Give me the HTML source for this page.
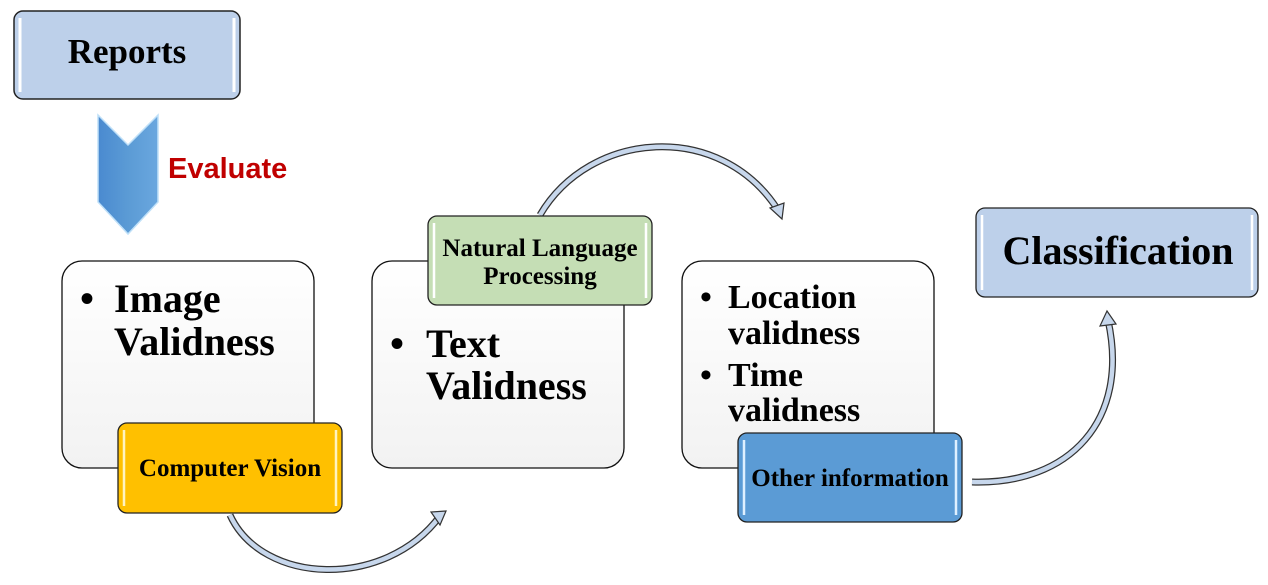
<!DOCTYPE html>
<html><head><meta charset="utf-8"><style>body{margin:0;background:#fff}svg{display:block}</style></head><body>
<svg width="1268" height="585" xmlns="http://www.w3.org/2000/svg" font-family="Liberation Serif, serif" font-weight="bold">
<defs>
<linearGradient id="wg" x1="0" y1="0" x2="0" y2="1"><stop offset="0" stop-color="#fff"/><stop offset="1" stop-color="#f2f2f2"/></linearGradient>
<linearGradient id="cg" x1="0" y1="0" x2="1" y2="0"><stop offset="0" stop-color="#4a8ad0"/><stop offset="0.5" stop-color="#5b9bd5"/><stop offset="1" stop-color="#6aa7df"/></linearGradient>
</defs>
<rect x="14" y="11" width="226" height="88" rx="9" fill="#bdd0ea" stroke="#222" stroke-width="1.5"/>
<line x1="20" y1="18" x2="20" y2="92" stroke="#fff" stroke-width="3"/><line x1="234" y1="18" x2="234" y2="92" stroke="#fff" stroke-width="3"/>
<text x="127" y="63" font-size="35" text-anchor="middle">Reports</text>
<polygon points="98,115 128,145 158,115 158,202 128,234 98,202" fill="url(#cg)" stroke="#bfe0f8" stroke-width="1.5"/>
<text x="168" y="178" font-family="Liberation Sans, sans-serif" font-weight="bold" font-size="29" fill="#c00000">Evaluate</text>
<g fill="none">
<path d="M230,515 C262,585 385,590 440,516" stroke="#333" stroke-width="7"/><path d="M230,515 C262,585 385,590 440,516" stroke="#c7d7ec" stroke-width="4.5"/>
<path d="M540,215 C590,130 720,120 778,210" stroke="#333" stroke-width="7"/><path d="M540,215 C590,130 720,120 778,210" stroke="#c7d7ec" stroke-width="4.5"/>
<path d="M972,482 C1070,485 1130,420 1108,320" stroke="#333" stroke-width="7"/><path d="M972,482 C1070,485 1130,420 1108,320" stroke="#c7d7ec" stroke-width="4.5"/>
</g>
<polygon points="446,511 431,512 440,525" fill="#c7d7ec" stroke="#333" stroke-width="1.2"/>
<polygon points="782,219 770,208 784,203" fill="#c7d7ec" stroke="#333" stroke-width="1.2"/>
<polygon points="1107,311 1100,326 1116,324" fill="#c7d7ec" stroke="#333" stroke-width="1.2"/>
<rect x="62" y="261" width="252" height="207" rx="20" fill="url(#wg)" stroke="#111" stroke-width="1.3"/>
<rect x="372" y="261" width="252" height="207" rx="20" fill="url(#wg)" stroke="#111" stroke-width="1.3"/>
<rect x="682" y="261" width="252" height="207" rx="20" fill="url(#wg)" stroke="#111" stroke-width="1.3"/>
<text font-size="40"><tspan x="80" y="312">•</tspan><tspan x="114" y="312">Image</tspan><tspan x="114" y="355">Validness</tspan></text>
<text font-size="40"><tspan x="390" y="357">•</tspan><tspan x="426" y="357">Text</tspan><tspan x="426" y="399">Validness</tspan></text>
<text font-size="34"><tspan x="700" y="308">•</tspan><tspan x="728" y="308">Location</tspan><tspan x="728" y="344">validness</tspan><tspan x="700" y="386">•</tspan><tspan x="728" y="386">Time</tspan><tspan x="728" y="421">validness</tspan></text>
<rect x="118" y="423" width="224" height="90" rx="9" fill="#ffc000" stroke="#222" stroke-width="1.3"/>
<line x1="124" y1="430" x2="124" y2="506" stroke="#fff3c0" stroke-width="2.5"/><line x1="336" y1="430" x2="336" y2="506" stroke="#fff3c0" stroke-width="2.5"/>
<text x="230" y="476" font-size="25" text-anchor="middle">Computer Vision</text>
<rect x="428" y="216" width="224" height="89" rx="9" fill="#c5deb5" stroke="#222" stroke-width="1.3"/>
<line x1="434" y1="223" x2="434" y2="298" stroke="#fff" stroke-width="2.5"/><line x1="646" y1="223" x2="646" y2="298" stroke="#fff" stroke-width="2.5"/>
<text font-size="25" text-anchor="middle"><tspan x="540" y="256">Natural Language</tspan><tspan x="540" y="284">Processing</tspan></text>
<rect x="738" y="433" width="224" height="89" rx="9" fill="#5b9bd5" stroke="#222" stroke-width="1.3"/>
<line x1="744" y1="440" x2="744" y2="515" stroke="#dff0ff" stroke-width="2.5"/><line x1="956" y1="440" x2="956" y2="515" stroke="#dff0ff" stroke-width="2.5"/>
<text x="850" y="486" font-size="25" text-anchor="middle">Other information</text>
<rect x="976" y="208" width="282" height="89" rx="9" fill="#bdd0ea" stroke="#222" stroke-width="1.3"/>
<line x1="982" y1="215" x2="982" y2="290" stroke="#fff" stroke-width="2.5"/><line x1="1252" y1="215" x2="1252" y2="290" stroke="#fff" stroke-width="2.5"/>
<text x="1118" y="264" font-size="40" text-anchor="middle">Classification</text>
</svg>
</body></html>
